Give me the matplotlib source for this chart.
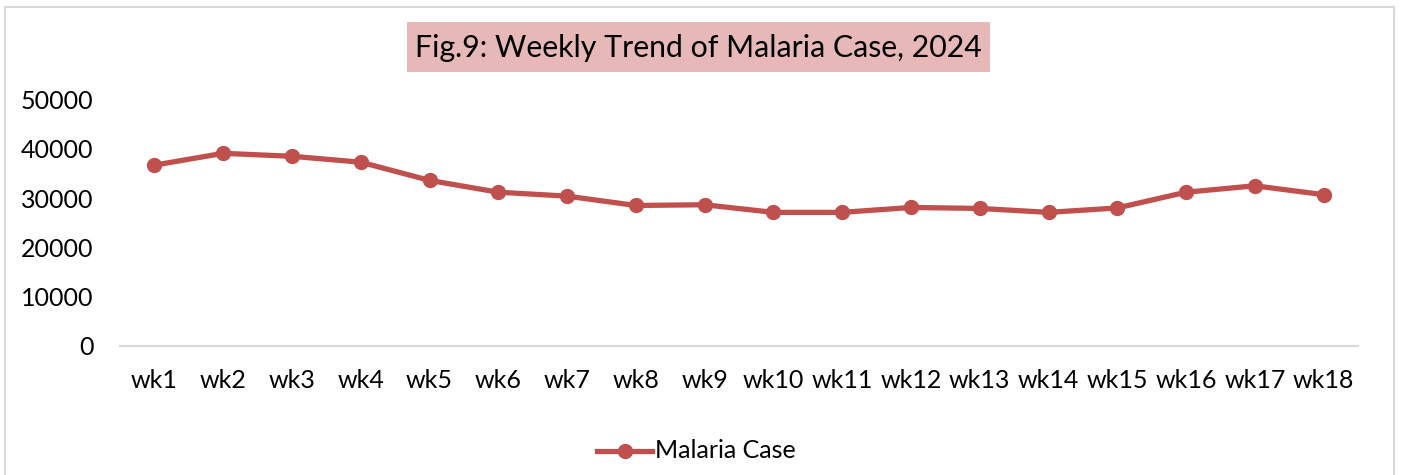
import matplotlib
matplotlib.use("Agg")
import matplotlib.pyplot as plt
from matplotlib.patches import Rectangle
from matplotlib.lines import Line2D

weeks = ["wk1", "wk2", "wk3", "wk4", "wk5", "wk6", "wk7", "wk8", "wk9",
         "wk10", "wk11", "wk12", "wk13", "wk14", "wk15", "wk16", "wk17", "wk18"]
cases = [36700, 39100, 38500, 37300, 33600, 31200, 30400, 28500, 28650,
         27100, 27100, 28100, 27900, 27100, 28000, 31200, 32500, 30700]
yticks = [0, 10000, 20000, 30000, 40000, 50000]

title = "Fig.9: Weekly Trend of Malaria Case, 2024"
series_name = "Malaria Case"
line_color = "#C0504D"
font = "Lato"

W, H = 1407, 475
fig = plt.figure(figsize=(W / 100, H / 100), dpi=100)

# outer chart border
fig.patches.append(Rectangle((5 / W, -0.05), (1394 - 5) / W, 1 - 7 / H + 0.05,
                             transform=fig.transFigure, fill=False,
                             edgecolor="#D9D9D9", linewidth=1.5))

left, right = 120 / W, 1358 / W
bottom, top = 1 - 345.7 / H, 1 - 99.7 / H
ax = fig.add_axes([left, bottom, right - left, top - bottom])

x = list(range(len(weeks)))
ax.plot(x, cases, color=line_color, linewidth=3.8, marker="o", markersize=10,
        solid_capstyle="round", label=series_name)

ax.set_xlim(-0.5, len(weeks) - 0.5)
ax.set_ylim(0, 50000)
ax.set_yticks(yticks)
ax.set_yticklabels([str(v) for v in yticks], fontfamily=font, fontsize=18)
ax.set_xticks(x)
ax.set_xticklabels(weeks, fontfamily=font, fontsize=18)
ax.tick_params(axis="both", length=0)
ax.tick_params(axis="y", pad=19)
ax.tick_params(axis="x", pad=17)
for s in ["top", "right", "left"]:
    ax.spines[s].set_visible(False)
ax.spines["bottom"].set_color("#D9D9D9")
ax.spines["bottom"].set_linewidth(1.5)
ax.set_clip_on(False)

# title with pink box
fig.patches.append(Rectangle((407 / W, 1 - 72 / H), (990 - 407) / W, 50 / H,
                             transform=fig.transFigure, facecolor="#E6B8B7",
                             edgecolor="none"))
fig.text((407 + 990) / 2 / W, 1 - 48 / H, title, ha="center", va="center",
         fontfamily=font, fontsize=21.8, color="black")

# legend
ly = 1 - 451 / H
fig.lines.append(Line2D([597 / W, 652 / W], [ly, ly], transform=fig.transFigure,
                        color=line_color, linewidth=3.8))
fig.lines.append(Line2D([624.5 / W], [ly], transform=fig.transFigure,
                        color=line_color, marker="o", markersize=10))
fig.text(655 / W, ly, series_name, ha="left", va="center",
         fontfamily=font, fontsize=18, color="black")

fig.savefig("out.png", dpi=100, facecolor="white")
